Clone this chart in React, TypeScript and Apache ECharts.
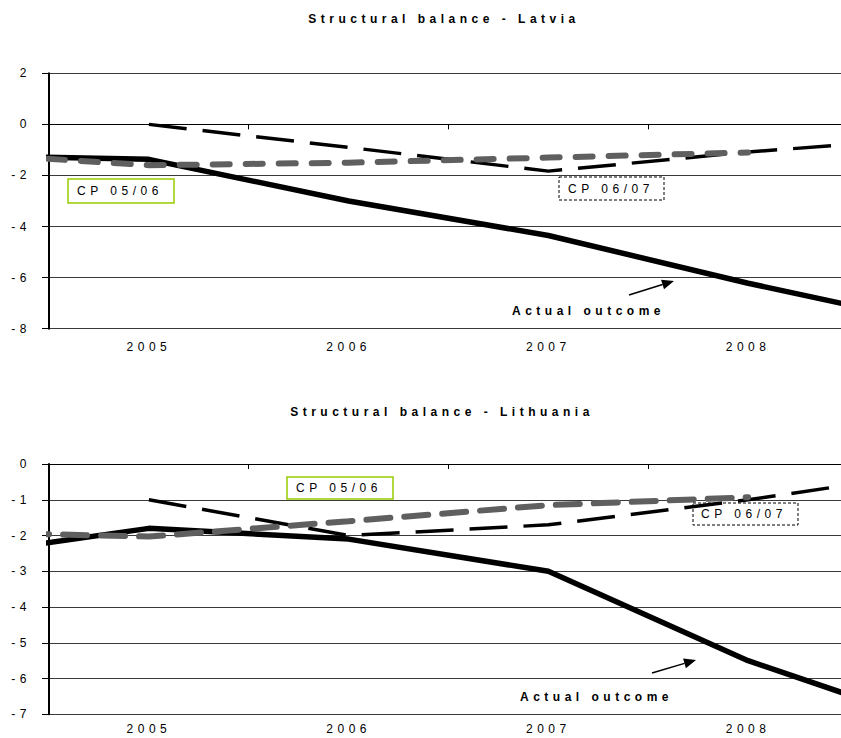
import React, { useEffect, useRef } from 'react';
import * as echarts from 'echarts';

// ---- data ----
const years = [2004, 2005, 2006, 2007, 2008, 2009];
const yearLabels = [2005, 2006, 2007, 2008];
const yearBoundaries = [2005.5, 2006.5, 2007.5];

const latviaActual = [-1.2, -1.37, -3.0, -4.35, -6.22, -7.9];
const latviaCP0506 = [-1.1, -1.6, -1.5, -1.3, -1.1, null];
const latviaCP0607 = [null, 0.0, -0.9, -1.83, -1.08, -0.5];

const lithuaniaActual = [-2.6, -1.8, -2.1, -3.0, -5.5, -7.4];
const lithuaniaCP0506 = [-1.9, -2.03, -1.6, -1.15, -0.93, null];
const lithuaniaCP0607 = [null, -1.0, -2.0, -1.7, -1.0, -0.18];

const latviaRange = [-8, 2];
const latviaStep = 2;
const lithuaniaRange = [-7, 0];
const lithuaniaStep = 1;

const titles = ['Structural balance - Latvia', 'Structural balance - Lithuania'];
const seriesNames = ['Actual outcome', 'CP 05/06', 'CP 06/07'];

const FONT = 'Liberation Sans, Arial, Helvetica, sans-serif';
const X_MIN = 2004.5;
const X_MAX = 2008.465;

function pairs(vals: (number | null)[]) {
  const out: [number, number][] = [];
  years.forEach((y, i) => {
    const v = vals[i];
    if (v !== null && v !== undefined) out.push([y, v]);
  });
  return out;
}

function arrow(x1: number, y1: number, x2: number, y2: number) {
  const dx = x2 - x1;
  const dy = y2 - y1;
  const len = Math.sqrt(dx * dx + dy * dy);
  const ux = dx / len;
  const uy = dy / len;
  const hl = 12;
  const hw = 5;
  const bx = x2 - ux * hl;
  const by = y2 - uy * hl;
  const px = -uy;
  const py = ux;
  return [
    {
      type: 'line',
      shape: { x1, y1, x2: bx, y2: by },
      style: { stroke: '#000', lineWidth: 1.5 },
      z: 100,
    },
    {
      type: 'polygon',
      shape: {
        points: [
          [x2, y2],
          [bx + px * hw, by + py * hw],
          [bx - px * hw, by - py * hw],
        ],
      },
      style: { fill: '#000' },
      z: 100,
    },
  ];
}

function txt(text: string, x: number, y: number, bold: boolean, align: string) {
  return {
    type: 'text',
    x,
    y,
    z: 100,
    style: {
      text,
      fill: '#000',
      font: `${bold ? 'bold ' : ''}12px ${FONT}`,
      textAlign: align,
      align,
      textVerticalAlign: 'middle',
      verticalAlign: 'middle',
    },
  };
}

function box(x: number, y: number, w: number, h: number, color: string, dashed: boolean) {
  return {
    type: 'rect',
    shape: { x, y, width: w, height: h },
    z: 99,
    style: {
      fill: 'transparent',
      stroke: color,
      lineWidth: dashed ? 1 : 1.5,
      lineDash: dashed ? [3, 2] : null,
    },
  };
}

function xAxesFor(gridIndex: number, labelMargin: number) {
  return [
    {
      gridIndex,
      type: 'value',
      min: X_MIN,
      max: X_MAX,
      position: 'bottom',
      axisLine: { show: false, onZero: false },
      axisTick: { show: false },
      splitLine: { show: false },
      axisLabel: {
        customValues: yearLabels,
        formatter: (v: number) => String(Math.round(v)),
        margin: labelMargin,
        fontSize: 12,
        color: '#000',
        fontFamily: FONT,
      },
    },
    {
      gridIndex,
      type: 'value',
      min: X_MIN,
      max: X_MAX,
      position: 'bottom',
      axisLine: { show: true, onZero: true, lineStyle: { color: '#000', width: 1 } },
      axisTick: {
        show: true,
        customValues: yearBoundaries,
        length: 5,
        lineStyle: { color: '#000', width: 1 },
      },
      axisLabel: { show: false },
      splitLine: { show: false },
    },
  ];
}

function yAxisFor(gridIndex: number, range: number[], step: number) {
  return {
    gridIndex,
    type: 'value',
    min: range[0],
    max: range[1],
    interval: step,
    axisLine: { show: true, onZero: false, lineStyle: { color: '#000', width: 2 } },
    axisTick: { show: true, length: 7, lineStyle: { color: '#000', width: 1 } },
    splitLine: { show: true, lineStyle: { color: '#3a3a3a', width: 1 } },
    axisLabel: { margin: 18, fontSize: 12, color: '#000', fontFamily: FONT },
  };
}

function seriesFor(
  xAxisIndex: number,
  yAxisIndex: number,
  actual: (number | null)[],
  cp0506: (number | null)[],
  cp0607: (number | null)[],
  grayDash: number[]
) {
  return [
    {
      name: seriesNames[0],
      type: 'line',
      xAxisIndex,
      yAxisIndex,
      data: pairs(actual),
      symbol: 'none',
      clip: true,
      lineStyle: { color: '#000', width: 5.5 },
      z: 2,
    },
    {
      name: seriesNames[2],
      type: 'line',
      xAxisIndex,
      yAxisIndex,
      data: pairs(cp0607),
      symbol: 'none',
      clip: true,
      lineStyle: { color: '#000', width: 3.5, type: [38, 16] },
      z: 3,
    },
    {
      name: seriesNames[1],
      type: 'line',
      xAxisIndex,
      yAxisIndex,
      data: pairs(cp0506),
      symbol: 'none',
      clip: true,
      lineStyle: { color: '#5f5f5f', width: 6, type: grayDash, cap: 'round' },
      z: 4,
    },
  ];
}

export default function App() {
  const ref = useRef<HTMLDivElement>(null);

  useEffect(() => {
    if (!ref.current) return;
    const chart = echarts.init(ref.current, null, { renderer: 'svg' });

    const option = {
      animation: false,
      backgroundColor: '#fff',
      textStyle: { fontFamily: FONT },
      grid: [
        { left: 49, right: 0, top: 73.3, height: 255.4 },
        { left: 49, right: 0, top: 464, height: 250.3 },
      ],
      xAxis: [...xAxesFor(0, 12), ...xAxesFor(1, 9)],
      yAxis: [yAxisFor(0, latviaRange, latviaStep), yAxisFor(1, lithuaniaRange, lithuaniaStep)],
      series: [
        ...seriesFor(0, 0, latviaActual, latviaCP0506, latviaCP0607, [17, 16]),
        ...seriesFor(2, 1, lithuaniaActual, lithuaniaCP0506, lithuaniaCP0607, [24, 14]),
      ],
      graphic: [
        txt(titles[0], 444, 19, true, 'center'),
        txt(titles[1], 442, 412, true, 'center'),
        // Latvia annotations
        box(68, 179, 106, 24, '#99CC00', false),
        txt(seriesNames[1], 77, 191, false, 'left'),
        box(559, 177, 105, 23, '#000', true),
        txt(seriesNames[2], 568, 188.5, false, 'left'),
        txt(seriesNames[0], 512, 311, true, 'left'),
        ...arrow(629, 295, 674, 281),
        // Lithuania annotations
        box(287, 477, 106, 22, '#99CC00', false),
        txt(seriesNames[1], 296, 488, false, 'left'),
        box(693, 503, 105, 22, '#000', true),
        txt(seriesNames[2], 701, 514, false, 'left'),
        txt(seriesNames[0], 520, 697, true, 'left'),
        ...arrow(652, 673, 696, 660),
      ],
    };

    chart.setOption(option as any);
    return () => {
      chart.dispose();
    };
  }, []);

  return (
    <div
      ref={ref}
      style={{
        position: 'fixed',
        left: 0,
        top: 0,
        width: 841,
        height: 738,
        letterSpacing: '4.5px',
        background: '#fff',
      }}
    />
  );
}
